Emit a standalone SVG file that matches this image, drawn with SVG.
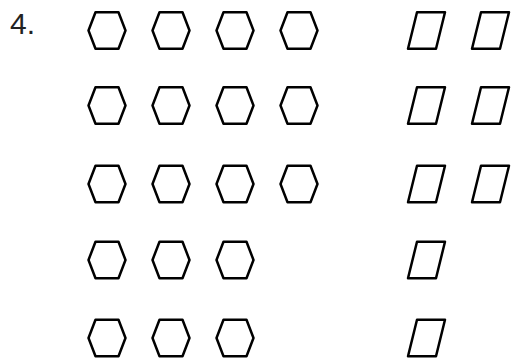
<svg xmlns="http://www.w3.org/2000/svg" xmlns:xlink="http://www.w3.org/1999/xlink" width="513" height="358" viewBox="0 0 513 358">
<style>
.s{fill:none;stroke:#000;stroke-width:2.5;stroke-linejoin:round}
.t{font-family:"Liberation Sans",Arial,sans-serif;font-size:30px;fill:#222}
</style>
<defs>
<polygon id="hex" class="s" points="-18.5,0 -11.5,-18.3 11.5,-18.3 18.5,0 11.5,18.3 -11.5,18.3"/>
<polygon id="par" class="s" points="-9.5,-18.3 18.5,-18.3 9.5,18.3 -18.5,18.3"/>
</defs>
<rect width="513" height="358" fill="#fff"/>
<text class="t" x="10" y="34">4.</text>
<g id="row1">
<g id="h1a"><use xlink:href="#hex" x="107" y="30.5"/></g>
<g id="h1b"><use xlink:href="#hex" x="171" y="30.5"/></g>
<g id="h1c"><use xlink:href="#hex" x="235" y="30.5"/></g>
<g id="h1d"><use xlink:href="#hex" x="299" y="30.5"/></g>
<g id="p1a"><use xlink:href="#par" x="426.5" y="30.5"/></g>
<g id="p1b"><use xlink:href="#par" x="490.5" y="30.5"/></g>
</g>
<g id="row2">
<g id="h2a"><use xlink:href="#hex" x="107" y="105.5"/></g>
<g id="h2b"><use xlink:href="#hex" x="171" y="105.5"/></g>
<g id="h2c"><use xlink:href="#hex" x="235" y="105.5"/></g>
<g id="h2d"><use xlink:href="#hex" x="299" y="105.5"/></g>
<g id="p2a"><use xlink:href="#par" x="426.5" y="105.5"/></g>
<g id="p2b"><use xlink:href="#par" x="490.5" y="105.5"/></g>
</g>
<g id="row3">
<g id="h3a"><use xlink:href="#hex" x="107" y="184"/></g>
<g id="h3b"><use xlink:href="#hex" x="171" y="184"/></g>
<g id="h3c"><use xlink:href="#hex" x="235" y="184"/></g>
<g id="h3d"><use xlink:href="#hex" x="299" y="184"/></g>
<g id="p3a"><use xlink:href="#par" x="426.5" y="184"/></g>
<g id="p3b"><use xlink:href="#par" x="490.5" y="184"/></g>
</g>
<g id="row4">
<g id="h4a"><use xlink:href="#hex" x="107" y="260"/></g>
<g id="h4b"><use xlink:href="#hex" x="171" y="260"/></g>
<g id="h4c"><use xlink:href="#hex" x="235" y="260"/></g>
<g id="p4a"><use xlink:href="#par" x="426.5" y="260"/></g>
</g>
<g id="row5">
<g id="h5a"><use xlink:href="#hex" x="107" y="338"/></g>
<g id="h5b"><use xlink:href="#hex" x="171" y="338"/></g>
<g id="h5c"><use xlink:href="#hex" x="235" y="338"/></g>
<g id="p5a"><use xlink:href="#par" x="426.5" y="338"/></g>
</g>
<g id="connectors"/>
</svg>
